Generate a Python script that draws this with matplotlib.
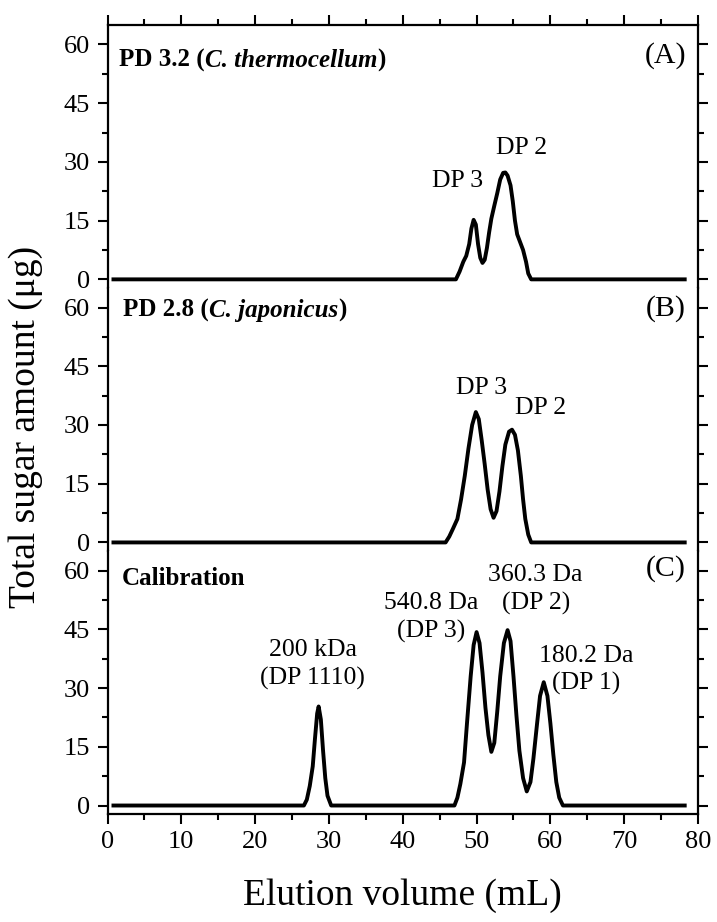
import matplotlib.pyplot as plt
from matplotlib.ticker import MultipleLocator

plt.rcParams['font.family'] = ['Liberation Serif', 'DejaVu Serif']

# elution profiles (mL, ug)
xA = [0.8, 47.2, 47.7, 48.2, 48.6, 49.0, 49.3, 49.6, 49.9, 50.2, 50.5, 50.8, 51.1, 51.4,
      51.7, 52.0, 52.4, 52.8, 53.2, 53.6, 53.9, 54.2, 54.6, 54.9, 55.2, 55.5, 55.9, 56.3,
      56.7, 57.0, 57.4, 78.2]
yA = [0, 0, 2, 4.5, 6, 9, 13, 15.2, 14, 9, 5.5, 4.2, 5, 8,
      12, 15.5, 18.8, 22, 25.5, 27.2, 27.3, 26.5, 24, 20, 15, 11.5, 9.5, 7.5,
      4.5, 1.5, 0, 0]

xB = [0.8, 45.8, 46.3, 46.8, 47.4, 47.9, 48.4, 48.9, 49.4, 49.9, 50.3, 50.7, 51.1, 51.5,
      51.9, 52.3, 52.7, 53.1, 53.5, 53.9, 54.4, 54.8, 55.2, 55.6, 56.0, 56.3, 56.6, 57.0,
      57.4, 78.2]
yB = [0, 0, 1.5, 3.5, 6, 11, 17, 24, 30, 33.3, 31.5, 26, 20, 13.5,
      8.5, 6.3, 8, 13, 19.5, 25, 28.3, 28.8, 27.5, 23.5, 17, 11, 6, 2,
      0, 0]

xC = [0.8, 26.6, 27.0, 27.4, 27.8, 28.1, 28.4, 28.6, 28.9, 29.2, 29.5, 29.8, 30.3,
      47.0, 47.4, 47.8, 48.3, 48.7, 49.2, 49.6, 50.0, 50.4, 50.8, 51.2, 51.6, 52.0,
      52.4, 52.8, 53.2, 53.7, 54.2, 54.6, 55.0, 55.4, 55.8, 56.3, 56.8, 57.3, 57.7,
      58.2, 58.6, 59.1, 59.6, 60.0, 60.4, 60.8, 61.2, 61.7, 78.2]
yC = [0, 0, 1.5, 5, 10, 17, 23.5, 25.3, 22, 14, 7, 2.5, 0,
      0, 2, 5.5, 11, 21, 33, 41, 44.3, 41.5, 34, 25, 18, 13.7,
      16, 24, 33, 41.5, 44.8, 42, 33, 23, 14, 7, 3.6, 6, 12,
      21, 28, 31.5, 28, 21, 13, 6, 2, 0, 0]

panel_letters = ['(A)', '(B)', '(C)']
peak_labels = [
    [('DP 3', 47.45, 25.1), ('DP 2', 56.05, 33.6)],
    [('DP 3', 50.7, 39.4), ('DP 2', 58.7, 34.3)],
    [('200 kDa\n(DP 1110)', 27.8, 36.0), ('540.8 Da\n(DP 3)', 43.9, 48.0),
     ('360.3 Da\n(DP 2)', 58.0, 55.2), ('180.2 Da\n(DP 1)', 64.9, 34.6)],
]

fig = plt.figure(figsize=(7.17, 9.22), dpi=100)
axes = fig.subplots(3, 1, sharex=True, gridspec_kw=dict(hspace=0))
fig.subplots_adjust(left=0.1500, right=0.9735, top=0.973, bottom=0.117)

for ax, xs, ys in zip(axes, [xA, xB, xC], [yA, yB, yC]):
    ax.plot(xs, ys, color='black', lw=2.8, solid_joinstyle='round')
    ax.set_xlim(0, 80)
    ax.set_ylim(-2.2, 65)
    ax.yaxis.set_major_locator(MultipleLocator(15))
    ax.yaxis.set_minor_locator(MultipleLocator(7.5))
    ax.xaxis.set_major_locator(MultipleLocator(10))
    ax.xaxis.set_minor_locator(MultipleLocator(5))
    ax.tick_params(which='both', direction='out', left=True, right=True,
                   top=False, bottom=False, labelbottom=False, width=1.5,
                   labelsize=19)
    ax.tick_params(which='major', length=7.5, pad=5)
    ax.tick_params(which='minor', length=4.5)
    for s in ax.spines.values():
        s.set_linewidth(1.6)

axes[0].spines['bottom'].set_visible(False)
axes[1].spines['top'].set_visible(False)
axes[1].spines['bottom'].set_visible(False)
axes[2].spines['top'].set_visible(False)
axes[0].tick_params(which='both', top=True)
axes[2].tick_params(which='both', bottom=True, labelbottom=True)

# panel titles (bold, species in bold italic)
def title_parts(ax, parts, x, y):
    prev = ax.text(x, y, parts[0][0], fontsize=18, fontweight='bold',
                   fontstyle=parts[0][1], ha='left', va='center')
    for txt, st in parts[1:]:
        prev = ax.annotate(txt, xy=(1, 0), xycoords=prev, fontsize=18,
                           fontweight='bold', fontstyle=st, ha='left', va='bottom')

title_parts(axes[0], [('PD 3.2 (', 'normal'), ('C. thermocellum', 'italic'), (')', 'normal')], 1.6, 56.0)
title_parts(axes[1], [('PD 2.8 (', 'normal'), ('C. japonicus', 'italic'), (')', 'normal')], 2.1, 59.2)
title_parts(axes[2], [('Calibration', 'normal')], 1.9, 57.9)

letter_y = [57.3, 59.8, 60.5]
for ax, lt, ly in zip(axes, panel_letters, letter_y):
    ax.text(78.4, ly, lt, fontsize=21.5, ha='right', va='center')

for ax, labels in zip(axes, peak_labels):
    for txt, lx, ly in labels:
        ax.text(lx, ly, txt, fontsize=18.5, ha='center', va='center', linespacing=1.3)

axes[2].set_xlabel('Elution volume (mL)', fontsize=27, labelpad=18)
fig.text(0.036, 0.537, 'Total sugar amount (μg)', rotation=90,
         fontsize=27, ha='center', va='center')

fig.savefig('out.png', dpi=100)
